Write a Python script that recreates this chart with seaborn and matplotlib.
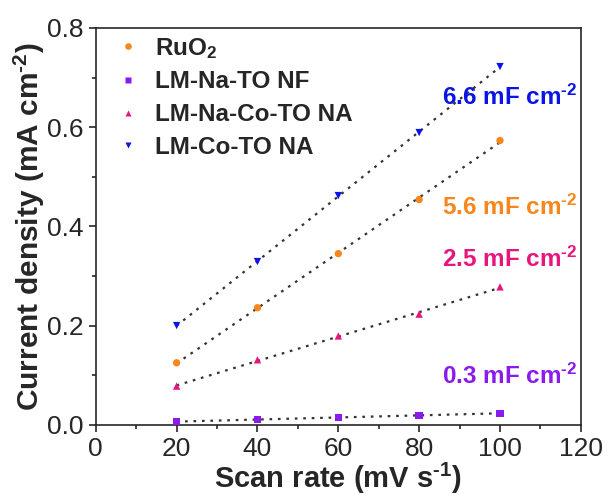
import numpy as np
import pandas as pd
import matplotlib
matplotlib.use("Agg")
import matplotlib.pyplot as plt
import seaborn as sns

scan_rate = [20, 40, 60, 80, 100]
ruo2 = [0.125, 0.236, 0.345, 0.454, 0.573]
lm_na_to = [0.006, 0.011, 0.015, 0.019, 0.023]
lm_na_co_to = [0.078, 0.131, 0.179, 0.223, 0.278]
lm_co_to = [0.200, 0.329, 0.462, 0.589, 0.722]

series_names = ["RuO$_\\mathbf{2}$", "LM-Na-TO NF", "LM-Na-Co-TO NA", "LM-Co-TO NA"]
colors = ["#F7861C", "#8A1BEF", "#E8157F", "#0A14E6"]
markers = ["o", "s", "^", "v"]
cap_labels = ["5.6 mF cm$^{\\text{-}\\mathbf{2}}$", "0.3 mF cm$^{\\text{-}\\mathbf{2}}$",
              "2.5 mF cm$^{\\text{-}\\mathbf{2}}$", "6.6 mF cm$^{\\text{-}\\mathbf{2}}$"]
cap_pos_y = [0.438, 0.098, 0.333, 0.660]

sns.set_style("ticks")
plt.rcParams["font.family"] = ["Liberation Sans", "DejaVu Sans"]
plt.rcParams["mathtext.fontset"] = "custom"
plt.rcParams["mathtext.rm"] = "Liberation Sans:bold"
plt.rcParams["mathtext.bf"] = "Liberation Sans:bold"
plt.rcParams["mathtext.it"] = "Liberation Sans:bold"

values = [ruo2, lm_na_to, lm_na_co_to, lm_co_to]
df = pd.DataFrame({
    "x": scan_rate * 4,
    "y": sum(values, []),
    "series": sum([[n] * 5 for n in series_names], []),
})

fig = plt.figure(figsize=(6.14, 4.98), dpi=100)
ax = fig.add_axes([0.156, 0.147, 0.79, 0.797])

for name, vals, c in zip(series_names, values, colors):
    p = np.polyfit(scan_rate, vals, 1)
    xs = np.array([scan_rate[0], scan_rate[-1]])
    ax.plot(xs, np.polyval(p, xs), linestyle=(0, (1.2, 2.6)), color="#333333",
            linewidth=1.6, zorder=1)

sns.scatterplot(data=df, x="x", y="y", hue="series", style="series",
                palette=dict(zip(series_names, colors)),
                markers=dict(zip(series_names, markers)),
                s=28, edgecolor="none", ax=ax, zorder=3)

for lab, yy, c in zip(cap_labels, cap_pos_y, colors):
    ax.text(119.0, yy, lab, color=c, fontsize=17.5, fontweight="bold",
            ha="right", va="center")

ax.set_xlim(0, 120)
ax.set_ylim(0, 0.8)
ax.set_xticks([0, 20, 40, 60, 80, 100, 120])
ax.set_xticks(np.arange(10, 120, 20), minor=True)
ax.set_yticks([0.0, 0.2, 0.4, 0.6, 0.8])
ax.set_yticks([0.1, 0.3, 0.5, 0.7], minor=True)
ax.yaxis.set_major_formatter(matplotlib.ticker.FormatStrFormatter("%.1f"))
ax.tick_params(which="major", direction="out", length=5, width=1.2, labelsize=19, pad=4)
ax.tick_params(which="minor", direction="out", length=3, width=1.2)
for sp in ax.spines.values():
    sp.set_linewidth(1.2)
    sp.set_visible(True)
ax.set_xlabel("Scan rate (mV s$^{\\text{-}\\mathbf{1}}$)", fontsize=21, fontweight="bold", labelpad=0)
ax.set_ylabel("Current density (mA cm$^{\\text{-}\\mathbf{2}}$)", fontsize=21.5, fontweight="bold", labelpad=0)

leg = ax.legend(loc="upper left", frameon=False, prop={"weight": "bold", "size": 17.5},
                bbox_to_anchor=(-0.003, 1.035), handlelength=1.0, handletextpad=0.6,
                labelspacing=0.4, markerscale=0.9)

fig.savefig("out.png", dpi=100)
